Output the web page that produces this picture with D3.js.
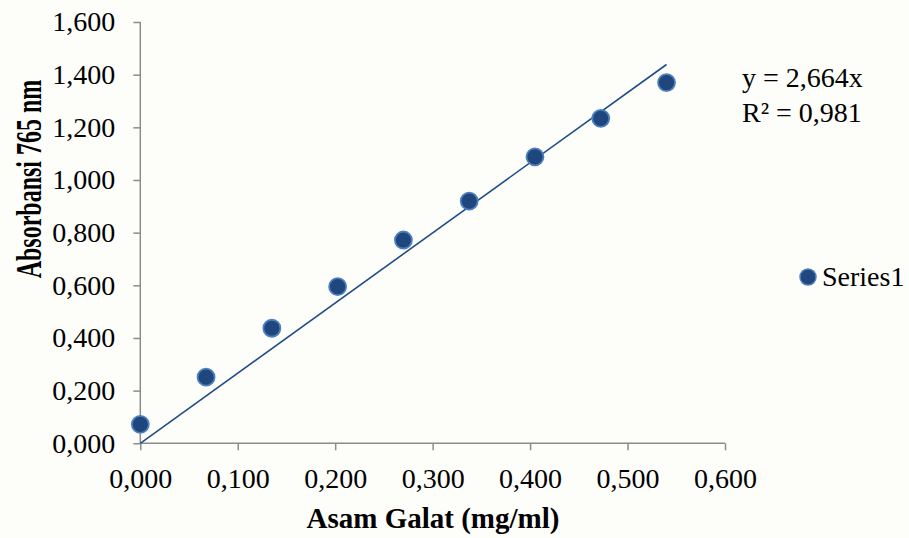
<!DOCTYPE html>
<html>
<head>
<meta charset="utf-8">
<script src="https://cdn.jsdelivr.net/npm/d3@7"></script>
<style>
  body { margin: 0; background: #fdfdfa; }
  svg { display: block; font-family: "Liberation Serif", "Times New Roman", serif; }
</style>
</head>
<body>
<div id="chart"></div>
<script>
// data
var conc = [0, 0.0675, 0.135, 0.2025, 0.27, 0.3375, 0.405, 0.4725, 0.54];
var absorb = [0.072, 0.251, 0.437, 0.595, 0.772, 0.920, 1.088, 1.234, 1.370];
var slope = 2.664;
var eqLines = ["y = 2,664x", "R\u00b2 = 0,981"];
var xTicks = [0, 0.1, 0.2, 0.3, 0.4, 0.5, 0.6];
var yTicks = [0, 0.2, 0.4, 0.6, 0.8, 1.0, 1.2, 1.4, 1.6];
var seriesName = "Series1";

function draw_chart(selector){
  var w = 909, h = 538;

  var svg = d3.select(selector)
    .append("svg")
    .attr("width", w)
    .attr("height", h);

  var x = d3.scaleLinear().domain([0, 0.6]).range([140.3, 725]);
  var y = d3.scaleLinear().domain([0, 1.6]).range([443.3, 22]);

  var fmt = function(d){ return d3.format(".3f")(d).replace(".", ","); };
  var fs = 28;

  // Y axis
  var gy = svg.append("g")
    .attr("transform", "translate(" + x(0) + ",0)")
    .call(d3.axisLeft(y).tickValues(yTicks).tickFormat(fmt).tickSize(7).tickPadding(18));
  // X axis
  var gx = svg.append("g")
    .attr("transform", "translate(0," + y(0) + ")")
    .call(d3.axisBottom(x).tickValues(xTicks).tickFormat(fmt).tickSize(7).tickPadding(18));

  [gx, gy].forEach(function(g){
    g.select(".domain").attr("stroke", "#8c8c8c").attr("stroke-width", 1.5);
    g.selectAll(".tick line").attr("stroke", "#8c8c8c").attr("stroke-width", 1.5);
    g.selectAll(".tick text")
      .attr("fill", "#000")
      .style("font-family", "Liberation Serif, serif")
      .style("font-size", fs + "px");
  });
  gx.select(".domain").attr("d", "M" + x(0) + ",0H" + x(0.6));
  gy.select(".domain").attr("d", "M0," + y(0) + "V" + y(1.6));

  // axis titles
  svg.append("text")
    .attr("x", 433).attr("y", 528)
    .attr("text-anchor", "middle")
    .style("font-weight", "bold")
    .style("font-size", "29px")
    .text("Asam Galat (mg/ml)");

  // the y title is drawn squat in the picture: short but thick
  svg.append("text")
    .attr("transform", "translate(41,179) rotate(-90) scale(1,1.5)")
    .attr("text-anchor", "middle")
    .style("font-weight", "bold")
    .style("font-size", "24px")
    .text("Absorbansi 765 nm");

  // linear trend line through origin
  var xmax = d3.max(conc);
  svg.append("line")
    .attr("x1", x(0)).attr("y1", y(0))
    .attr("x2", x(xmax)).attr("y2", y(slope * xmax))
    .attr("stroke", "#1f4e87")
    .attr("stroke-width", 1.6);

  // points
  svg.append("g")
    .selectAll("circle")
    .data(conc)
    .enter()
    .append("circle")
      .attr("cx", function(d){ return x(d); })
      .attr("cy", function(d, i){ return y(absorb[i]); })
      .attr("r", 8.5)
      .style("fill", "#1f477e")
      .style("stroke", "#4d7fc0")
      .style("stroke-width", 1.8);

  // equation
  svg.append("g")
    .selectAll("text")
    .data(eqLines)
    .enter()
    .append("text")
      .attr("x", 742)
      .attr("y", function(d, i){ return 87 + i * 35; })
      .style("font-size", fs + "px")
      .text(function(d){ return d; });

  // legend
  svg.append("circle")
    .attr("cx", 808).attr("cy", 277).attr("r", 8)
    .style("fill", "#1f477e")
    .style("stroke", "#4d7fc0")
    .style("stroke-width", 1.5);
  svg.append("text")
    .attr("x", 822).attr("y", 286)
    .style("font-size", fs + "px")
    .text(seriesName);
}

draw_chart("#chart");
</script>
</body>
</html>
